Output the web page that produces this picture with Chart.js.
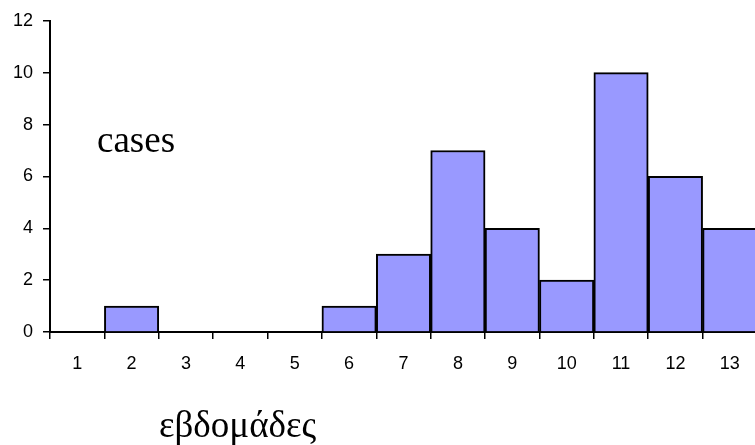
<!DOCTYPE html>
<html>
<head>
<meta charset="utf-8">
<script src="https://cdn.jsdelivr.net/npm/chart.js@4"></script>
<style>
  html, body { margin: 0; padding: 0; background: #fff; overflow: hidden; }
  #wrap { width: 755px; height: 445px; overflow: hidden; }
</style>
</head>
<body>
<div id="wrap"><canvas id="weeksChart" width="760" height="445"></canvas></div>
<script>
const weeks = ['1', '2', '3', '4', '5', '6', '7', '8', '9', '10', '11', '12', '13']
const cases = [0, 1, 0, 0, 0, 1, 3, 7, 4, 2, 10, 6, 4]
const yTicks = [0, 2, 4, 6, 8, 10, 12]
const seriesLabel = 'cases'
const axisTitle = 'εβδομάδες'

// draws the two free-floating labels the way the original sheet has them
const labelsPlugin = {
  id: 'freeLabels',
  afterDraw(chart) {
    const ctx = chart.ctx
    ctx.save()
    ctx.fillStyle = '#000'
    ctx.textAlign = 'left'
    ctx.textBaseline = 'alphabetic'
    ctx.font = '37px "Liberation Serif", "Times New Roman", serif'
    ctx.fillText(seriesLabel, 97, 152)
    ctx.fillText(axisTitle, 159, 437)
    ctx.restore()
  },
}

const tickFont = { family: '"Liberation Sans", Arial, sans-serif', size: 18 }

new Chart(document.getElementById('weeksChart').getContext('2d'), {
  type: 'bar',
  data: {
    labels: weeks,
    datasets: [
      {
        label: seriesLabel,
        data: cases,
        backgroundColor: '#9999ff',
        borderColor: '#000',
        borderWidth: 2,
        barPercentage: 1,
        categoryPercentage: 1,
      },
    ],
  },
  options: {
    responsive: false,
    animation: false,
    devicePixelRatio: 1,
    layout: { padding: { top: 16, right: 3, left: 0, bottom: 0 } },
    plugins: {
      legend: { display: false },
      tooltip: { enabled: false },
    },
    scales: {
      x: {
        offset: true,
        grid: {
          offset: true,
          drawOnChartArea: false,
          drawTicks: true,
          tickLength: 7,
          color: '#000',
          lineWidth: 1.5,
        },
        border: { color: '#000', width: 2 },
        ticks: { color: '#000', font: tickFont, padding: 14, maxRotation: 0 },
        afterFit(scale) {
          scale.height = 113
        },
      },
      y: {
        min: 0,
        max: 12,
        afterBuildTicks(scale) {
          scale.ticks = yTicks.map(v => ({ value: v }))
        },
        grid: {
          drawOnChartArea: false,
          drawTicks: true,
          tickLength: 7,
          color: '#000',
          lineWidth: 1.5,
        },
        border: { color: '#000', width: 2 },
        ticks: { color: '#000', font: tickFont, padding: 10 },
        afterFit(scale) {
          scale.width = 50
        },
      },
    },
  },
  plugins: [labelsPlugin],
})
</script>
</body>
</html>
